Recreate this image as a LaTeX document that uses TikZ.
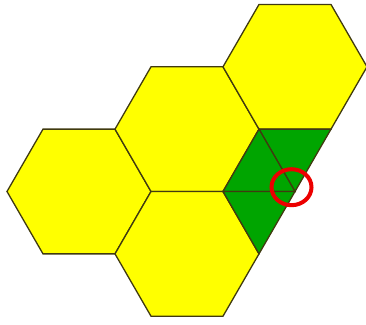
\documentclass[tikz,border=0pt]{standalone}
\usepackage{tikz}
\usetikzlibrary{calc}
\definecolor{hexyellow}{RGB}{255,255,0}
\definecolor{hexgreen}{RGB}{0,165,0}
\definecolor{hexline}{RGB}{64,58,16}
\definecolor{markred}{RGB}{236,0,0}
\tikzset{
  cell/.style={draw=hexline,line width=1.3pt,fill=hexyellow,line join=miter},
  part/.style={draw=hexline,line width=1.3pt,fill=hexgreen,line join=miter},
  ring/.style={draw=markred,line width=4pt}
}

\begin{document}
\begin{tikzpicture}[x=1pt,y=1pt]
  \useasboundingbox (-295,-132.5) rectangle (71,191.5);
  \coordinate (g) at (0,0);
  \coordinate (tr) at (0,124.7);
  \coordinate (mid) at (-108,62.35);
  \coordinate (lft) at (-216,0);
  \coordinate (bot) at (-108,-62.35);
  \foreach \c in {lft,mid,bot,tr}
    \draw[cell,shift={(\c)}] (0:72) -- (60:72) -- (120:72) -- (180:72) -- (240:72) -- (300:72) -- cycle;
  \coordinate (gul) at ($(g)+(120:72)$);
  \coordinate (gur) at ($(g)+(60:72)$);
  \coordinate (gl) at ($(g)+(180:72)$);
  \coordinate (gll) at ($(g)+(240:72)$);
  \draw[part] (g) -- (gul) -- (gur) -- cycle;
  \draw[part] (g) -- (gl) -- (gul) -- cycle;
  \draw[part] (g) -- (gll) -- (gl) -- cycle;
  \draw[ring] ($(g)+(-3.5,4.3)$) ellipse [x radius=20,y radius=18];
\end{tikzpicture}
\end{document}
